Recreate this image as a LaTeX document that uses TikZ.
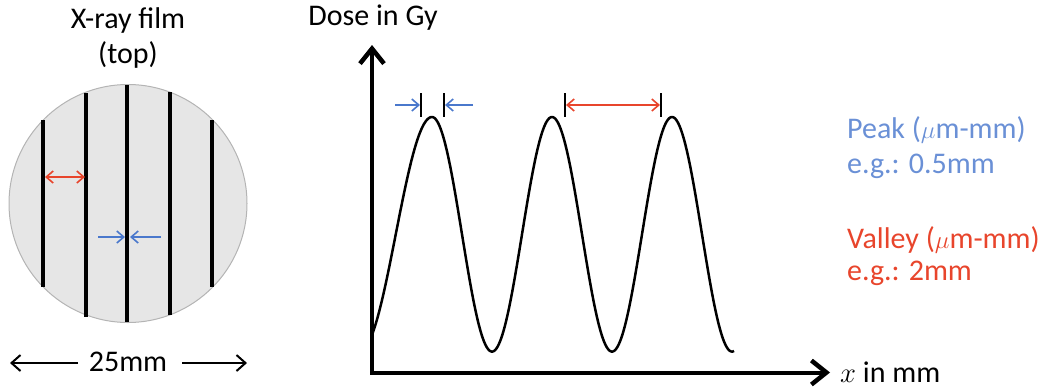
\documentclass[tikz,border=0pt]{standalone}
\usepackage{fontspec}
\setmainfont{Carlito}
\usetikzlibrary{arrows.meta}
\definecolor{pkblue}{HTML}{4A78CC}
\definecolor{pktext}{HTML}{6A90D6}
\definecolor{vlred}{HTML}{E8452C}
\definecolor{filmgray}{HTML}{E6E6E6}
\definecolor{filmedge}{HTML}{B4B4B4}
\tikzset{
  lbl/.style={font=\fontsize{30}{35}\selectfont, inner sep=0pt},
  filmline/.style={line width=3.5pt},
  axis/.style={line width=4pt, -{Straight Barb[length=15pt,width=24pt,line width=4.5pt]}},
  bluearr/.style={pkblue, line width=1.6pt, -{Straight Barb[length=7pt,width=12pt,line width=1.6pt]}},
  redarr/.style={vlred, line width=1.6pt, {Straight Barb[length=7pt,width=12pt,line width=1.6pt]}-{Straight Barb[length=7pt,width=12pt,line width=1.6pt]}},
  blackarr/.style={line width=2pt, -{Straight Barb[length=9pt,width=16pt,line width=2pt]}},
  tick/.style={line width=1.2pt}
}
\begin{document}
\begin{tikzpicture}[x=1pt,y=-1pt]
\useasboundingbox (0,0) rectangle (1044,389);
% film
\node[lbl] (t1) at (128,20) {X-ray film};
\node[lbl] (t2) at (128,55) {(top)};
\node[circle, draw=filmedge, fill=filmgray, line width=1pt, minimum size=238pt, inner sep=0pt] (film) at (128,203.5) {};
\draw[filmline] (43,120) -- (43,287);
\draw[filmline] (86,93) -- (86,317);
\draw[filmline] (127,85) -- (127,322);
\draw[filmline] (170,92) -- (170,315);
\draw[filmline] (212,120) -- (212,287);
\coordinate (ra) at (45,177); \coordinate (rb) at (85,177);
\draw[redarr] (ra) -- (rb);
\coordinate (bl0) at (98,237); \coordinate (bl1) at (125,237);
\coordinate (br0) at (161,237); \coordinate (br1) at (130,237);
\draw[bluearr] (bl0) -- (bl1);
\draw[bluearr] (br0) -- (br1);
\node[lbl] (size) at (128,362) {25mm};
\coordinate (sl0) at (78,363); \coordinate (sl) at (10,363);
\coordinate (sr0) at (182,363); \coordinate (sr) at (247,363);
\draw[blackarr] (sl0) -- (sl);
\draw[blackarr] (sr0) -- (sr);
% graph
\coordinate (O) at (372,372.5);
\coordinate (ytop) at (372,45);
\coordinate (xend) at (830,372.5);
\draw[line width=2.5pt, line join=round]
  plot[domain=372:432, samples=80] (\x, {234.3-117.3*cos((\x-432)/145*360)})
  -- plot[domain=432:734, samples=300] (\x, {234.3-117.3*cos((\x-432)/120*360)});
\draw[axis] (O) -- (ytop);
\draw[axis] ([xshift=-2pt]O) -- (xend);
\node[lbl] (ylab) at (373,18) {Dose in Gy};
\node[lbl, anchor=west] (xlab) at (840,372) {$\mathrm{\scalebox{1.15}{$x$}}$ in mm};
% dimension markers
\draw[tick] (421,93) -- (421,117);
\draw[tick] (444,93) -- (444,117);
\coordinate (pa0) at (395,105); \coordinate (pa1) at (420,105);
\coordinate (pb0) at (473,105); \coordinate (pb1) at (445,105);
\draw[bluearr] (pa0) -- (pa1);
\draw[bluearr] (pb0) -- (pb1);
\draw[tick] (565,93) -- (565,117);
\draw[tick] (661,93) -- (661,117);
\coordinate (va) at (566,105); \coordinate (vb) at (660,105);
\draw[redarr] (va) -- (vb);
% legend text
\node[lbl, anchor=west, text=pktext] (pk1) at (847,130) {Peak ($\mu$m-mm)};
\node[lbl, anchor=west, text=pktext] (pk2) at (847,166) {e.g.: 0.5mm};
\node[lbl, anchor=west, text=vlred] (vl1) at (847,240) {Valley ($\mu$m-mm)};
\node[lbl, anchor=west, text=vlred] (vl2) at (847,273) {e.g.: 2mm};
\end{tikzpicture}
\end{document}
